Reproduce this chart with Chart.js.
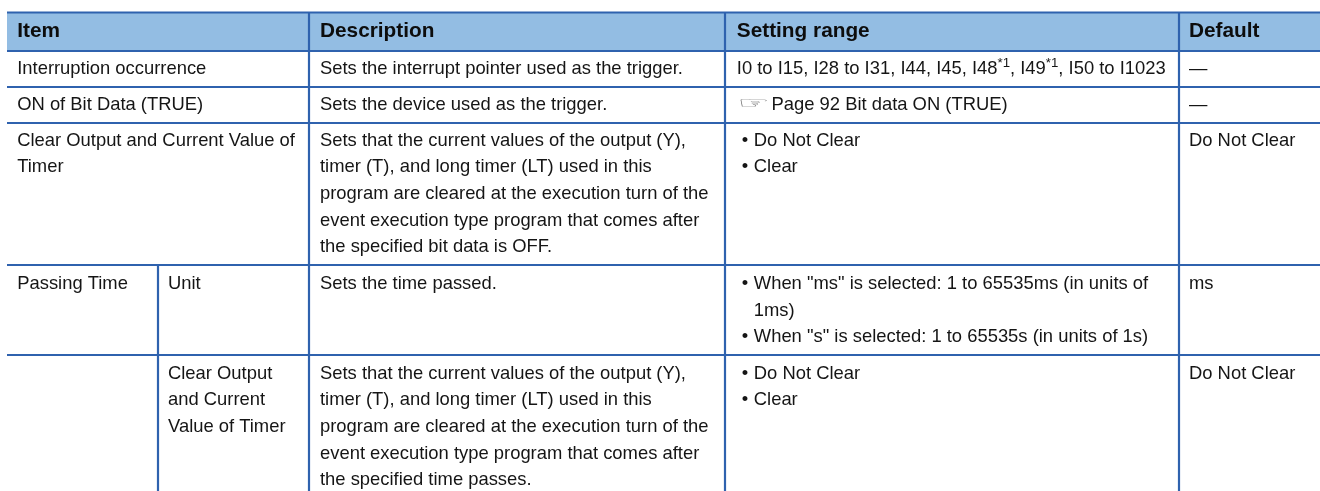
<!DOCTYPE html>
<html><head><meta charset="utf-8">
<style>html,body{margin:0;padding:0;background:#fff}canvas{display:block}</style>
<script src="https://cdn.jsdelivr.net/npm/chart.js@4"></script></head>
<body><canvas id="c" width="1320" height="491"></canvas>
<script>
const headerLabels = ["Item","Description","Setting range","Default"];
const itemColumn = [
 ["Interruption occurrence"],
 ["ON of Bit Data (TRUE)"],
 ["Clear Output and Current Value of","Timer"],
 ["Passing Time"],
 []
];
const subItemColumn = [[],[],[],["Unit"],["Clear Output","and Current","Value of Timer"]];
const descriptionColumn = [
 ["Sets the interrupt pointer used as the trigger."],
 ["Sets the device used as the trigger."],
 ["Sets that the current values of the output (Y),","timer (T), and long timer (LT) used in this","program are cleared at the execution turn of the","event execution type program that comes after","the specified bit data is OFF."],
 ["Sets the time passed."],
 ["Sets that the current values of the output (Y),","timer (T), and long timer (LT) used in this","program are cleared at the execution turn of the","event execution type program that comes after","the specified time passes."]
];
const settingColumn = [
 ["I0 to I15, I28 to I31, I44, I45, I48*1, I49*1, I50 to I1023"],
 ["☞Page 92 Bit data ON (TRUE)"],
 ["•Do Not Clear","•Clear"],
 ["•When \"ms\" is selected: 1 to 65535ms (in units of"," 1ms)","•When \"s\" is selected: 1 to 65535s (in units of 1s)"],
 ["•Do Not Clear","•Clear"]
];
const defaultColumn = [["—"],["—"],["Do Not Clear"],["ms"],["Do Not Clear"]];

const columnEdges = [7,158,309,725,1179,1320];
const rowEdges = [12.5,51,87,123,265,355,491];
const columnTextX = [17.2,168,320,736.8,1189];
const firstBaselines = [74,110,145.5,289,378.5];
const headerBaseline = 37;
const LINE = 26.7, RULE = "#2f62ae", HEAD = "#93bde3", INK = "#151515";
const FONT = "Liberation Sans, Arial, sans-serif";
const SIZE = 18.4, HSIZE = 20.8;

const rule = pts => ({data:pts.map(([x,y])=>({x,y})),showLine:true,pointRadius:0,borderColor:RULE,borderWidth:2.2,fill:false,order:0});
const ruleSets = [];
rowEdges.slice(0,-1).forEach(y=>ruleSets.push(rule([[columnEdges[0],y],[columnEdges[5],y]])));
ruleSets.push(rule([[columnEdges[2],rowEdges[0]],[columnEdges[2],rowEdges[6]]]));
ruleSets.push(rule([[columnEdges[3],rowEdges[0]],[columnEdges[3],rowEdges[6]]]));
ruleSets.push(rule([[columnEdges[4],rowEdges[0]],[columnEdges[4],rowEdges[6]]]));
ruleSets.push(rule([[columnEdges[1],rowEdges[4]],[columnEdges[1],rowEdges[6]]]));
const headerBand = {data:[{x:columnEdges[0],y:rowEdges[0]},{x:columnEdges[5],y:rowEdges[0]}],showLine:true,pointRadius:0,borderWidth:0,backgroundColor:HEAD,fill:{value:rowEdges[1]},order:5};

function drawRuns(ctx,s,x,y){
  for(const part of s.split(/(\*1)/)){
    if(part==="*1"){ctx.font=`${SIZE*0.72}px ${FONT}`;ctx.fillText(part,x,y-SIZE*0.38);x+=ctx.measureText(part).width;ctx.font=`${SIZE}px ${FONT}`;}
    else if(part){ctx.fillText(part,x,y);x+=ctx.measureText(part).width;}
  }
}
function drawLine(ctx,s,x,y){
  if(s[0]==="☞"){
    ctx.save();ctx.font=`20px "DejaVu Sans"`;ctx.fillStyle="#666";ctx.translate(x+0.7,y-2.5);ctx.scale(1.8,0.77);ctx.fillText("☞",0,0);ctx.restore();
    ctx.fillText(s.slice(1),x+34.7,y);return;
  }
  if(s[0]==="•"){ctx.fillText("•",x+5,y);drawRuns(ctx,s.slice(1),x+17,y);return;}
  if(s[0]===" "){drawRuns(ctx,s.slice(1),x+17,y);return;}
  drawRuns(ctx,s,x,y);
}
const tableText = {id:"tableText",afterDatasetsDraw(chart){
  const {ctx,scales:{x,y}} = chart;
  ctx.save();ctx.textBaseline="alphabetic";ctx.textAlign="left";
  ctx.font=`bold ${HSIZE}px ${FONT}`;ctx.fillStyle="#0d0d0d";
  [0,2,3,4].forEach((c,i)=>ctx.fillText(headerLabels[i],x.getPixelForValue(columnTextX[c]),y.getPixelForValue(headerBaseline)));
  ctx.font=`${SIZE}px ${FONT}`;ctx.fillStyle=INK;
  [itemColumn,subItemColumn,descriptionColumn,settingColumn,defaultColumn].forEach((col,c)=>{
    col.forEach((lines,r)=>lines.forEach((s,i)=>{
      drawLine(ctx,s,x.getPixelForValue(columnTextX[c]),y.getPixelForValue(firstBaselines[r]+i*LINE));
    }));
  });
  ctx.restore();
}};
new Chart(document.getElementById("c"),{
  type:"scatter",
  data:{datasets:[headerBand,...ruleSets]},
  options:{responsive:false,animation:false,layout:{padding:0},
    plugins:{legend:{display:false},tooltip:{enabled:false}},
    scales:{x:{type:"linear",display:false,min:0,max:1320},y:{type:"linear",display:false,min:0,max:491,reverse:true}}},
  plugins:[tableText]
});
</script></body></html>
